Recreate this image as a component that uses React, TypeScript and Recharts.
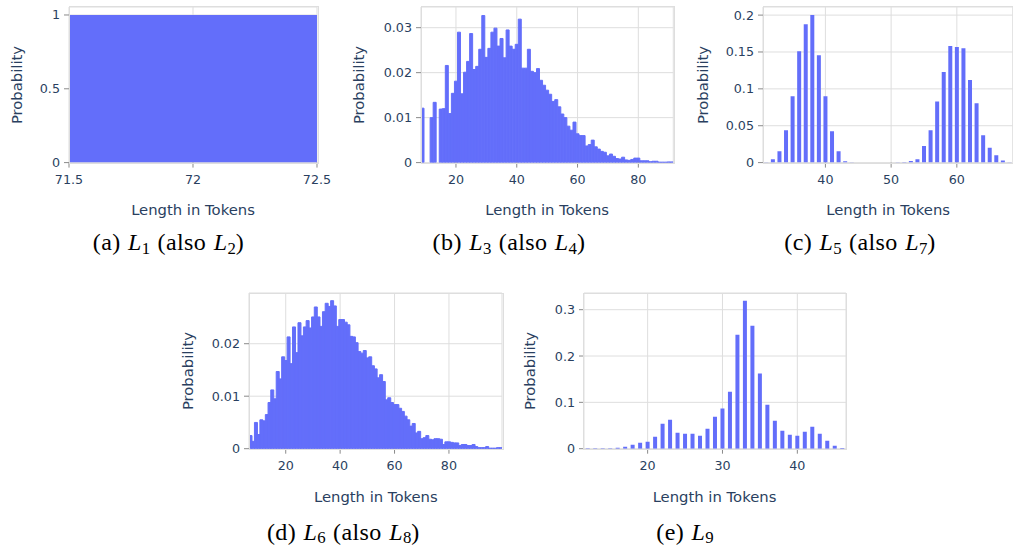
import React from "react";
import { BarChart, Bar, AreaChart, Area, XAxis, YAxis, CartesianGrid } from "recharts";

const BAR_BLUE = "#636efa";
const INK = "#2a3f5f";
const GRID = "#dedede";
const TICK = "#8a8a8a";
const AXIS_FONT = "'DejaVu Sans', Verdana, sans-serif";
const CAPTION_FONT = "'Liberation Serif', 'Times New Roman', serif";

// (a) L1 — every string has length 72
const L1_EDGES = [71.5, 72.5];
const L1_PROBS = [1, 1];
const L1_XTICKS = [71.5, 72, 72.5];
const L1_YTICKS = [0, 0.5, 1];

// (b) L3 — lengths 9..91
const L3_FIRST = 9;
const L3_PROBS = [
    0.0121, 0, 0, 0.01, 0.0134, 0, 0.0119, 0.012, 0.0216, 0.0109,
    0.0154, 0.0181, 0.029, 0.0153, 0.0201, 0.0225, 0.0287, 0.0207, 0.0214, 0.0252,
    0.0327, 0.0234, 0.0254, 0.029, 0.0299, 0.0259, 0.0276, 0.0233, 0.0295, 0.0259,
    0.0252, 0.0263, 0.0319, 0.021, 0.021, 0.0252, 0.0203, 0.02, 0.0209, 0.0183,
    0.0172, 0.0161, 0.0152, 0.0136, 0.014, 0.0124, 0.0108, 0.01, 0.0081, 0.0072,
    0.009, 0.0064, 0.006, 0.006, 0.0037, 0.004, 0.005, 0.0035, 0.003, 0.0025,
    0.0023, 0.0015, 0.0019, 0.0014, 0.0009, 0.0008, 0.0012, 0.0006, 0.0005, 0.0007,
    0.001, 0.001, 0.0004, 0.0004, 0.0004, 0.0002, 0.0003, 0.0003, 0.0001, 0.0001,
    0.0001, 0.00015, 0.00015,
];
const L3_XTICKS = [20, 40, 60, 80];
const L3_YTICKS = [0, 0.01, 0.02, 0.03];

// (c) L5 — lengths 31..68, two humps
const L5_FIRST = 31;
const L5_PROBS = [
    0.0005, 0.0045, 0.0154, 0.0438, 0.0899, 0.151, 0.1875, 0.2, 0.1455, 0.0899,
    0.0425, 0.0154, 0.0018, 0.0005, 0, 0, 0, 0, 0, 0,
    0.0005, 0.0009, 0.002, 0.0045, 0.0226, 0.044, 0.083, 0.123, 0.158, 0.1566,
    0.155, 0.112, 0.0805, 0.037, 0.02, 0.01, 0.003, 0.0005,
];
const L5_XTICKS = [40, 50, 60];
const L5_YTICKS = [0, 0.05, 0.1, 0.15, 0.2];

// (d) L6 — lengths 7..99
const L6_FIRST = 7;
const L6_PROBS = [
    0.0025, 0.0014, 0.005, 0.0027, 0.0055, 0.0053, 0.0065, 0.0088, 0.0112, 0.0095,
    0.0147, 0.0133, 0.0175, 0.0168, 0.0213, 0.0162, 0.0232, 0.0183, 0.024, 0.0215,
    0.0232, 0.0244, 0.023, 0.0251, 0.027, 0.0251, 0.0233, 0.0261, 0.0277, 0.0271,
    0.0282, 0.0272, 0.0233, 0.0246, 0.0246, 0.0241, 0.0236, 0.0214, 0.0213, 0.0202,
    0.0185, 0.0182, 0.0187, 0.0173, 0.0175, 0.0158, 0.0152, 0.0135, 0.0141, 0.0128,
    0.0093, 0.0097, 0.0088, 0.0084, 0.0084, 0.0077, 0.0071, 0.0062, 0.0055, 0.0043,
    0.0048, 0.003, 0.0033, 0.0019, 0.0021, 0.0025, 0.0018, 0.0017, 0.0019, 0.0019,
    0.0018, 0.0008, 0.0013, 0.0013, 0.0012, 0.0011, 0.0011, 0.0006, 0.0008, 0.0008,
    0.0006, 0.0006, 0.0008, 0.0004, 0.0002, 0.0002, 0.0002, 0.0004, 0.0001, 0.0001,
    0.0001, 0.0002, 0.0002,
];
const L6_XTICKS = [20, 40, 60, 80];
const L6_YTICKS = [0, 0.01, 0.02];

// (e) L9 — lengths 12..46
const L9_FIRST = 12;
const L9_PROBS = [
    0.001, 0.001, 0.001, 0.001, 0.002, 0.004, 0.0086, 0.013, 0.015, 0.026,
    0.054, 0.0626, 0.0345, 0.0324, 0.0324, 0.028, 0.0432, 0.069, 0.087, 0.123,
    0.246, 0.3194, 0.2655, 0.162, 0.095, 0.0604, 0.0388, 0.0302, 0.028, 0.0367,
    0.0475, 0.0324, 0.0173, 0.0065, 0.0015,
];
const L9_XTICKS = [20, 30, 40];
const L9_YTICKS = [0, 0.1, 0.2, 0.3];

type Box = { left: number; top: number; width: number; height: number };

const PAD_L = 60;
const PAD_T = 10;
const PAD_B = 30;
const PAD_R = 24;

const tickStyle = { fill: INK, fontSize: 12.7, fontFamily: AXIS_FONT };

const toBins = (first: number, probs: number[]) =>
    probs.map((p, i) => ({ len: first + i, p }));

function Frame({ box }: { box: Box }) {
    return (
        <div
            style={{
                position: "absolute",
                left: box.left - 0.5,
                top: box.top - 0.5,
                width: box.width,
                height: box.height,
                border: `1px solid ${GRID}`,
                pointerEvents: "none",
            }}
        />
    );
}

function axes(xDomain: number[], xTicks: number[], yMax: number, yTicks: number[]) {
    return [
        <XAxis
            key="x"
            dataKey="len"
            type="number"
            domain={xDomain}
            allowDataOverflow
            ticks={xTicks}
            interval={0}
            height={PAD_B}
            tickSize={5}
            tickMargin={7}
            axisLine={false}
            tickLine={{ stroke: TICK }}
            tick={tickStyle}
        />,
        <YAxis
            key="y"
            type="number"
            domain={[0, yMax]}
            allowDataOverflow
            ticks={yTicks}
            interval={0}
            width={PAD_L}
            tickSize={5}
            tickMargin={4}
            axisLine={false}
            tickLine={{ stroke: TICK }}
            tick={tickStyle}
        />,
    ];
}

function HistPanel({
    box, first, probs, xDomain, xTicks, yMax, yTicks, gap,
}: {
    box: Box; first: number; probs: number[]; xDomain: number[]; xTicks: number[];
    yMax: number; yTicks: number[]; gap: number | string;
}) {
    // touching bins get a same-colour outline so no seams show between them
    const solid = gap === 0;
    return (
        <>
            <div style={{ position: "absolute", left: box.left - PAD_L, top: box.top - PAD_T }}>
                <BarChart
                    width={box.width + PAD_L + PAD_R}
                    height={box.height + PAD_T + PAD_B}
                    data={toBins(first, probs)}
                    margin={{ top: PAD_T, right: PAD_R, bottom: 0, left: 0 }}
                    barCategoryGap={gap}
                    barGap={0}
                >
                    <CartesianGrid stroke={GRID} />
                    {axes(xDomain, xTicks, yMax, yTicks)}
                    <Bar
                        dataKey="p"
                        fill={BAR_BLUE}
                        stroke={solid ? BAR_BLUE : "none"}
                        strokeWidth={solid ? 1 : 0}
                        isAnimationActive={false}
                    />
                </BarChart>
            </div>
            <Frame box={box} />
        </>
    );
}

function SinglePanel({ box }: { box: Box }) {
    const data = L1_EDGES.map((len, i) => ({ len, p: L1_PROBS[i] }));
    return (
        <>
            <div style={{ position: "absolute", left: box.left - PAD_L, top: box.top - PAD_T }}>
                <AreaChart
                    width={box.width + PAD_L + PAD_R}
                    height={box.height + PAD_T + PAD_B}
                    data={data}
                    margin={{ top: PAD_T, right: PAD_R, bottom: 0, left: 0 }}
                >
                    <CartesianGrid stroke={GRID} />
                    {axes([71.5, 72.5], L1_XTICKS, 1.054, L1_YTICKS)}
                    <Area
                        type="linear"
                        dataKey="p"
                        fill={BAR_BLUE}
                        fillOpacity={1}
                        stroke="none"
                        isAnimationActive={false}
                    />
                </AreaChart>
            </div>
            <Frame box={box} />
        </>
    );
}

function AxisTitles({ box, yTitleX }: { box: Box; yTitleX: number }) {
    const base: React.CSSProperties = {
        position: "absolute",
        whiteSpace: "nowrap",
        fontFamily: AXIS_FONT,
        fontSize: 14.8,
        lineHeight: "18px",
        color: INK,
    };
    return (
        <>
            <div
                style={{
                    ...base,
                    left: yTitleX,
                    top: box.top + box.height / 2,
                    transform: "translate(-50%, -50%) rotate(-90deg)",
                }}
            >
                Probability
            </div>
            <div
                style={{
                    ...base,
                    left: box.left + box.width / 2,
                    top: box.top + box.height + 47.5,
                    transform: "translate(-50%, -50%)",
                }}
            >
                Length in Tokens
            </div>
        </>
    );
}

const subStyle: React.CSSProperties = {
    fontSize: "0.7em",
    position: "relative",
    top: "0.22em",
    lineHeight: 0,
    letterSpacing: 0,
};

function Caption({ x, y, tag, l, also }: { x: number; y: number; tag: string; l: string; also?: string }) {
    return (
        <div
            style={{
                position: "absolute",
                left: x,
                top: y,
                transform: "translate(-50%, -50%)",
                whiteSpace: "nowrap",
                fontFamily: CAPTION_FONT,
                fontSize: 24,
                lineHeight: "26px",
                letterSpacing: 0.4,
                wordSpacing: 1,
                color: "#000",
            }}
        >
            ({tag}) <i>L</i>
            <span style={subStyle}>{l}</span>
            {also && (
                <>
                    {" "}(also <i>L</i>
                    <span style={subStyle}>{also}</span>)
                </>
            )}
        </div>
    );
}

const BOX_A: Box = { left: 69, top: 6.7, width: 248, height: 155.6 };
const BOX_B: Box = { left: 421, top: 6.7, width: 252.3, height: 155.6 };
const BOX_C: Box = { left: 763.3, top: 6.7, width: 249.7, height: 155.6 };
const BOX_D: Box = { left: 249.3, top: 293.3, width: 253, height: 155.7 };
const BOX_E: Box = { left: 583.5, top: 293.3, width: 262, height: 155.7 };

export default function App() {
    return (
        <div
            style={{
                position: "fixed",
                left: 0,
                top: 0,
                width: 1013,
                height: 546,
                overflow: "hidden",
                background: "#fff",
            }}
        >
            <SinglePanel box={BOX_A} />
            <AxisTitles box={BOX_A} yTitleX={17} />
            <Caption x={168.5} y={242} tag="a" l="1" also="2" />

            <HistPanel box={BOX_B} first={L3_FIRST} probs={L3_PROBS} xDomain={[8.5, 91.5]}
                xTicks={L3_XTICKS} yMax={0.0346} yTicks={L3_YTICKS} gap={0} />
            <AxisTitles box={BOX_B} yTitleX={358.8} />
            <Caption x={509} y={242} tag="b" l="3" also="4" />

            <HistPanel box={BOX_C} first={L5_FIRST} probs={L5_PROBS} xDomain={[30.5, 68.5]}
                xTicks={L5_XTICKS} yMax={0.211} yTicks={L5_YTICKS} gap="20%" />
            <AxisTitles box={BOX_C} yTitleX={702.7} />
            <Caption x={860} y={242} tag="c" l="5" also="7" />

            <HistPanel box={BOX_D} first={L6_FIRST} probs={L6_PROBS} xDomain={[6.5, 99.5]}
                xTicks={L6_XTICKS} yMax={0.02966} yTicks={L6_YTICKS} gap={0} />
            <AxisTitles box={BOX_D} yTitleX={188.3} />
            <Caption x={343.3} y={531.5} tag="d" l="6" also="8" />

            <HistPanel box={BOX_E} first={L9_FIRST} probs={L9_PROBS} xDomain={[11.5, 46.5]}
                xTicks={L9_XTICKS} yMax={0.336} yTicks={L9_YTICKS} gap="23%" />
            <AxisTitles box={BOX_E} yTitleX={530.3} />
            <Caption x={685} y={531.5} tag="e" l="9" />
        </div>
    );
}
